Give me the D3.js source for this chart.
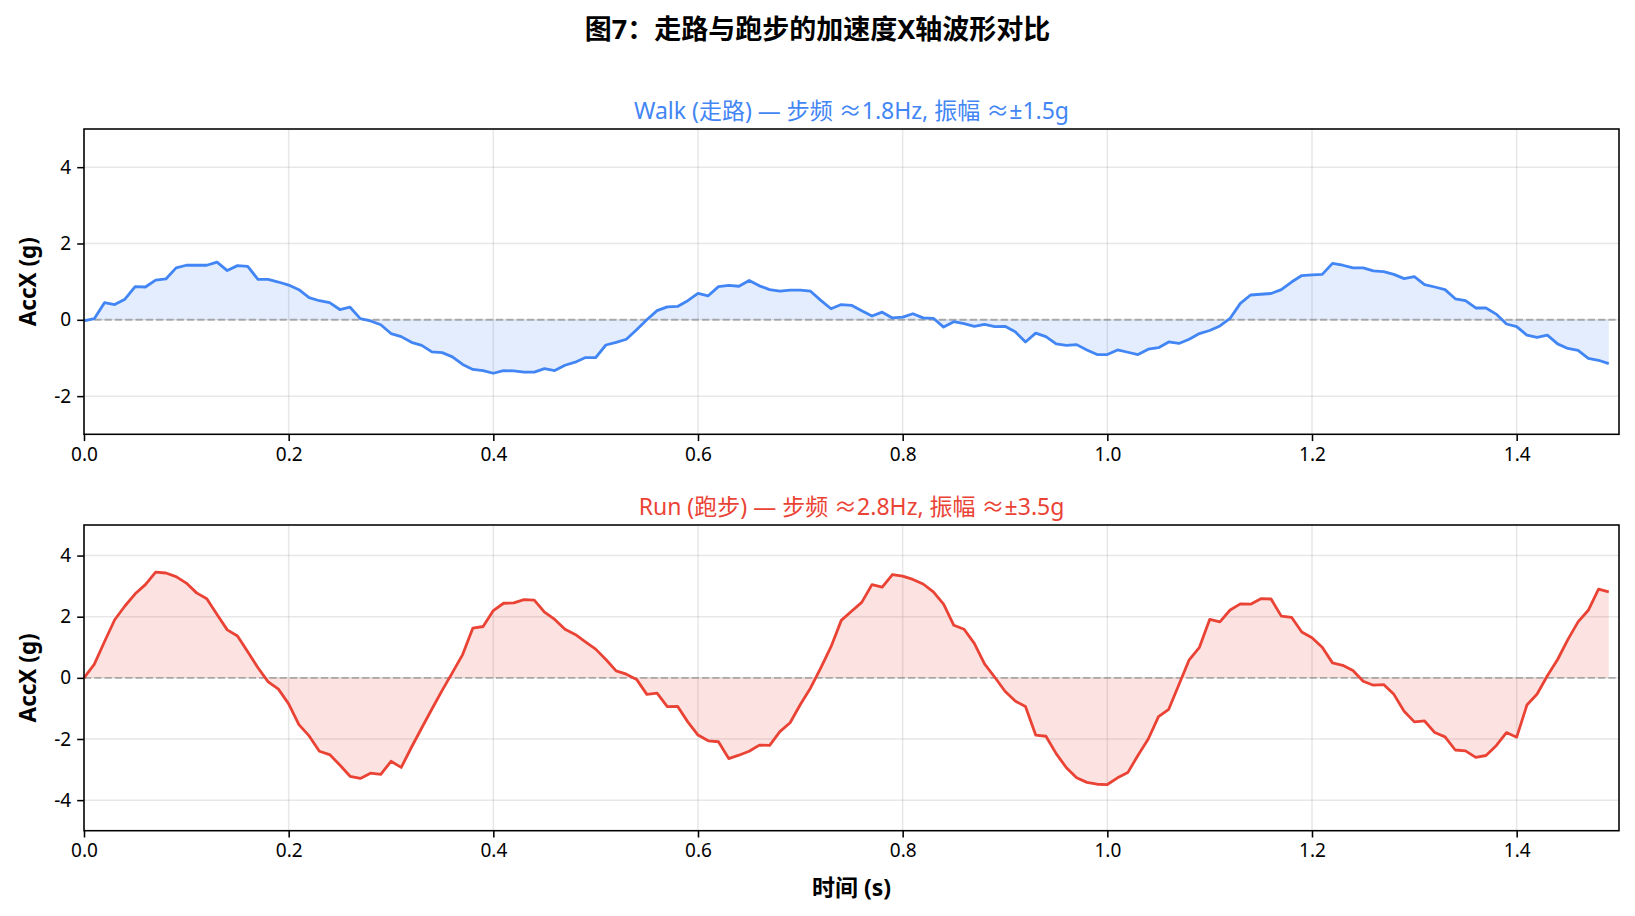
<!DOCTYPE html>
<html>
<head>
<meta charset="utf-8">
<script src="https://cdn.jsdelivr.net/npm/d3@7"></script>
<style>
  body { margin: 0; background: #fff; }
  text { font-family: "Noto Sans", "Noto Sans CJK SC", sans-serif; fill: #000; }
</style>
</head>
<body>
<div id="chart"></div>
<script>
// samples every 10 ms, 0.00 .. 1.49 s
const sampleRate = 100;

const walkValues = [
  -0.03, 0.03, 0.45, 0.40, 0.54, 0.87, 0.86, 1.04, 1.07, 1.36,
  1.43, 1.43, 1.43, 1.51, 1.29, 1.42, 1.40, 1.06, 1.06, 0.99,
  0.91, 0.79, 0.58, 0.50, 0.45, 0.27, 0.33, 0.03, -0.03, -0.13,
  -0.36, -0.44, -0.59, -0.67, -0.84, -0.86, -0.97, -1.17, -1.30, -1.33,
  -1.40, -1.33, -1.34, -1.37, -1.37, -1.28, -1.33, -1.19, -1.11, -0.99,
  -0.99, -0.66, -0.59, -0.51, -0.26, 0.00, 0.24, 0.34, 0.35, 0.50,
  0.69, 0.63, 0.87, 0.90, 0.88, 1.03, 0.89, 0.79, 0.75, 0.78,
  0.78, 0.75, 0.51, 0.29, 0.40, 0.38, 0.24, 0.10, 0.20, 0.05,
  0.07, 0.16, 0.05, 0.04, -0.19, -0.05, -0.10, -0.17, -0.12, -0.18,
  -0.17, -0.31, -0.58, -0.35, -0.44, -0.63, -0.67, -0.65, -0.79, -0.91,
  -0.91, -0.79, -0.85, -0.91, -0.77, -0.73, -0.58, -0.62, -0.51, -0.36,
  -0.28, -0.16, 0.04, 0.43, 0.65, 0.67, 0.69, 0.79, 0.99, 1.16,
  1.18, 1.19, 1.48, 1.43, 1.36, 1.36, 1.28, 1.26, 1.19, 1.08,
  1.13, 0.92, 0.86, 0.79, 0.55, 0.50, 0.31, 0.31, 0.15, -0.11,
  -0.18, -0.40, -0.46, -0.40, -0.63, -0.75, -0.80, -1.01, -1.06, -1.15
];

const runValues = [
  0.00, 0.44, 1.18, 1.90, 2.35, 2.75, 3.05, 3.46, 3.43, 3.31,
  3.10, 2.78, 2.59, 2.07, 1.57, 1.37, 0.85, 0.33, -0.13, -0.37,
  -0.85, -1.53, -1.90, -2.40, -2.51, -2.85, -3.22, -3.29, -3.12, -3.16,
  -2.73, -2.93, -2.27, -1.64, -1.02, -0.41, 0.17, 0.76, 1.63, 1.68,
  2.20, 2.44, 2.45, 2.56, 2.54, 2.15, 1.91, 1.59, 1.42, 1.18,
  0.94, 0.60, 0.23, 0.12, -0.05, -0.54, -0.50, -0.94, -0.93, -1.44,
  -1.87, -2.06, -2.09, -2.64, -2.53, -2.40, -2.20, -2.21, -1.76, -1.47,
  -0.87, -0.33, 0.33, 1.02, 1.88, 2.18, 2.47, 3.05, 2.97, 3.38,
  3.33, 3.22, 3.07, 2.81, 2.41, 1.72, 1.59, 1.13, 0.46, 0.02,
  -0.44, -0.76, -0.94, -1.87, -1.91, -2.48, -2.94, -3.27, -3.42, -3.48,
  -3.49, -3.27, -3.10, -2.53, -2.00, -1.27, -1.03, -0.22, 0.59, 1.00,
  1.91, 1.83, 2.22, 2.42, 2.41, 2.59, 2.58, 2.02, 1.98, 1.50,
  1.31, 1.00, 0.49, 0.41, 0.24, -0.11, -0.24, -0.22, -0.54, -1.09,
  -1.44, -1.41, -1.79, -1.93, -2.36, -2.39, -2.60, -2.54, -2.22, -1.79,
  -1.94, -0.89, -0.53, 0.07, 0.60, 1.25, 1.83, 2.21, 2.90, 2.81
];

const xTicks = [0, 0.2, 0.4, 0.6, 0.8, 1.0, 1.2, 1.4];
const walkYTicks = [-2, 0, 2, 4];
const runYTicks = [-4, -2, 0, 2, 4];

const chartTitle = "图7：走路与跑步的加速度X轴波形对比";
const walkTitle = "Walk (走路) — 步频 ≈1.8Hz, 振幅 ≈±1.5g";
const runTitle = "Run (跑步) — 步频 ≈2.8Hz, 振幅 ≈±3.5g";
const yLabel = "AccX (g)";
const xLabel = "时间 (s)";

const W = 1635, H = 916;
const svg = d3.select("#chart").append("svg")
  .attr("width", W).attr("height", H);
svg.append("rect").attr("width", W).attr("height", H).attr("fill", "#fff");

svg.append("text")
  .attr("x", W / 2).attr("y", 28.5)
  .attr("text-anchor", "middle").attr("dominant-baseline", "central")
  .style("font-size", "27px").style("font-weight", "bold")
  .text(chartTitle);

const x = d3.scaleLinear().domain([0, 1.5]).range([84, 1619]);

function drawPanel(opt) {
  const y = d3.scaleLinear().domain(opt.yDomain).range([opt.bottom, opt.top]);
  const g = svg.append("g");
  const pts = opt.values.map((v, i) => [i / sampleRate, v]);

  // grid
  g.selectAll(".gx").data(xTicks).enter().append("line")
    .attr("x1", d => x(d)).attr("x2", d => x(d))
    .attr("y1", opt.top).attr("y2", opt.bottom)
    .attr("stroke", "#b0b0b0").attr("stroke-opacity", 0.3).attr("stroke-width", 1.5);
  g.selectAll(".gy").data(opt.yTicks).enter().append("line")
    .attr("x1", x.range()[0]).attr("x2", x.range()[1])
    .attr("y1", d => y(d)).attr("y2", d => y(d))
    .attr("stroke", "#b0b0b0").attr("stroke-opacity", 0.3).attr("stroke-width", 1.5);

  // fill between 0 and signal
  const area = d3.area().x(d => x(d[0])).y0(y(0)).y1(d => y(d[1]));
  g.append("path").attr("d", area(pts))
    .attr("fill", opt.color).attr("fill-opacity", 0.15);

  // zero line
  g.append("line")
    .attr("x1", x.range()[0]).attr("x2", x.range()[1])
    .attr("y1", y(0)).attr("y2", y(0))
    .attr("stroke", "#808080").attr("stroke-opacity", 0.6)
    .attr("stroke-width", 1.9).attr("stroke-dasharray", "7.2,3.1");

  const line = d3.line().x(d => x(d[0])).y(d => y(d[1]));
  g.append("path").attr("d", line(pts))
    .attr("fill", "none").attr("stroke", opt.color)
    .attr("stroke-width", 2.8).attr("stroke-linejoin", "round");

  // axes
  const xAxis = d3.axisBottom(x).tickValues(xTicks).tickFormat(d3.format(".1f"))
    .tickSize(6.8).tickPadding(6);
  const yAxis = d3.axisLeft(y).tickValues(opt.yTicks).tickFormat(d => String(d))
    .tickSize(6.8).tickPadding(6);
  const ax = g.append("g").attr("transform", `translate(0,${opt.bottom})`).call(xAxis);
  const ay = g.append("g").attr("transform", `translate(${x.range()[0]},0)`).call(yAxis);
  [ax, ay].forEach(a => {
    a.select(".domain").remove();
    a.selectAll(".tick line").attr("stroke", "#000").attr("stroke-width", 1.55);
    a.selectAll(".tick text").style("font-size", "19px").attr("fill", "#000");
  });

  // frame
  g.append("rect")
    .attr("x", x.range()[0]).attr("y", opt.top)
    .attr("width", x.range()[1] - x.range()[0]).attr("height", opt.bottom - opt.top)
    .attr("fill", "none").attr("stroke", "#000").attr("stroke-width", 1.55);

  svg.append("text")
    .attr("x", (x.range()[0] + x.range()[1]) / 2).attr("y", opt.top - 19)
    .attr("text-anchor", "middle").attr("dominant-baseline", "central")
    .style("font-size", "23px").style("fill", opt.color)
    .text(opt.title);

  svg.append("text")
    .attr("transform", `translate(27,${(opt.top + opt.bottom) / 2}) rotate(-90)`)
    .attr("text-anchor", "middle").attr("dominant-baseline", "central")
    .style("font-size", "22.5px").style("font-weight", "bold")
    .text(yLabel);
}

drawPanel({ top: 129, bottom: 434.3, yDomain: [-3, 5], yTicks: walkYTicks,
  values: walkValues, color: "#4285f4", title: walkTitle });
drawPanel({ top: 525, bottom: 830.7, yDomain: [-5, 5], yTicks: runYTicks,
  values: runValues, color: "#ea4335", title: runTitle });

svg.append("text")
  .attr("x", (84 + 1619) / 2).attr("y", 887)
  .attr("text-anchor", "middle").attr("dominant-baseline", "central")
  .style("font-size", "23px").style("font-weight", "bold")
  .text(xLabel);
</script>
</body>
</html>
